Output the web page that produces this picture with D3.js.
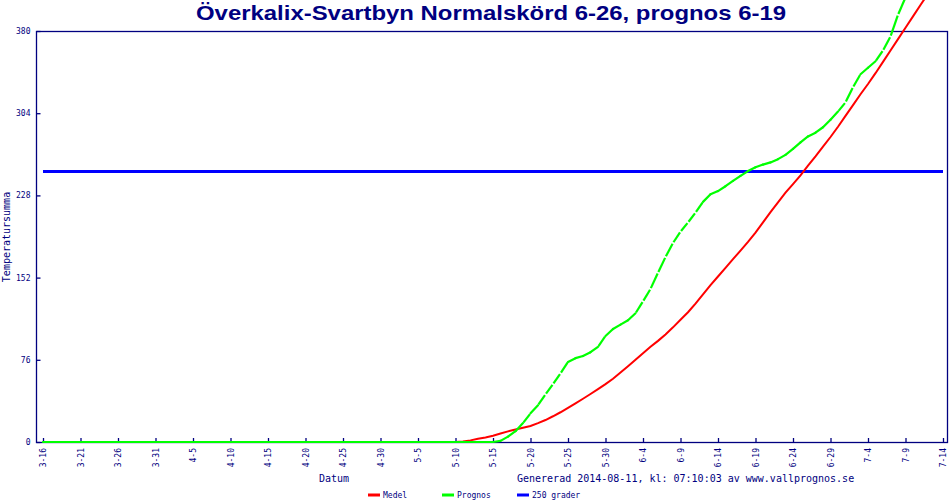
<!DOCTYPE html>
<html>
  <head>
    <meta charset="UTF-8" />
    <script src="https://d3js.org/d3.v7.min.js"></script>
    <style>
      body { margin: 0; background: #fff; }
    </style>
  </head>
  <body>
    <div id="chart"></div>

    <script>
      // values
      var titel = "Överkalix-Svartbyn Normalskörd 6-26, prognos 6-19";
      var yTicks = [0, 76, 152, 228, 304, 380];
      var xTickLabels = [
        "3-16", "3-21", "3-26", "3-31", "4-5", "4-10", "4-15", "4-20", "4-25",
        "4-30", "5-5", "5-10", "5-15", "5-20", "5-25", "5-30", "6-4", "6-9",
        "6-14", "6-19", "6-24", "6-29", "7-4", "7-9", "7-14",
      ];
      var grans = 250;

      // Medel, one value per day from 5-10
      var medelStart = "2014-05-10";
      var medel = [
        0, 0.5, 1.5, 3, 4.2, 5.8, 7.8, 9.8, 11.6, 13.2, 14.8, 17.4, 20.3, 23.8,
        27.5, 31.6, 35.8, 40, 44.4, 48.9, 53.5, 58.5, 64.2, 70, 76, 82, 88, 93.5,
        99.5, 106, 113, 120, 128, 136.5, 145, 153, 161, 169, 177, 185, 193.5,
        203, 212.5, 221.5, 230.5, 238.5, 246.5, 255.5, 264, 273, 282, 291.5,
        301.5, 311.5, 321.5, 331, 341, 351.5, 362, 372.5, 383, 393.5, 404, 414.5,
      ];

      // Prognos, one value per day from 3-16
      var prognosStart = "2014-03-16";
      var prognos = [
        0, 0, 0, 0, 0, 0, 0, 0, 0, 0, 0, 0, 0, 0, 0, 0, 0, 0, 0, 0,
        0, 0, 0, 0, 0, 0, 0, 0, 0, 0, 0, 0, 0, 0, 0, 0, 0, 0, 0, 0,
        0, 0, 0, 0, 0, 0, 0, 0, 0, 0, 0, 0, 0, 0, 0, 0, 0, 0, 0, 0, 0,
        1, 5, 10, 17.5, 26.5, 34, 44, 53.5, 63.5, 74, 77.5, 79.5, 83, 88, 98,
        104.5, 108.5, 112.5, 119, 130, 141.5, 156.5, 171, 184, 194.5, 203, 212,
        222, 229, 232, 236.5, 241.5, 246, 250.5, 254, 256.5, 258.5, 261.5,
        265.5, 271, 277, 282.5, 286, 291, 298, 305.5, 314, 328, 340, 346, 352,
        362, 375, 395, 411,
      ];

      var width = 950,
        height = 500;
      var navy = "#000080";
      var mono = "'DejaVu Sans Mono', 'Liberation Mono', monospace";
      var parse = d3.timeParse("%Y-%m-%d");

      function series(start, values) {
        var d0 = parse(start);
        return values.map(function (v, i) {
          return { date: d3.timeDay.offset(d0, i), value: v };
        });
      }
      var medelData = series(medelStart, medel);
      var prognosData = series(prognosStart, prognos);
      var tickDates = xTickLabels.map(function (s) {
        var p = s.split("-");
        return new Date(2014, +p[0] - 1, +p[1]);
      });

      var svg = d3
        .select("#chart")
        .append("svg")
        .attr("width", width)
        .attr("height", height)
        .style("font-family", mono);

      var x = d3
        .scaleTime()
        .domain([tickDates[0], tickDates[tickDates.length - 1]])
        .range([43, 943]);
      var y = d3.scaleLinear().domain([0, 380]).range([442, 31]);

      // title
      svg
        .append("text")
        .attr("x", 196)
        .attr("y", 20)
        .attr("textLength", 590)
        .attr("lengthAdjust", "spacingAndGlyphs")
        .style("font-family", "'Liberation Sans', Arial, sans-serif")
        .style("font-weight", "bold")
        .style("font-size", "21px")
        .attr("fill", navy)
        .text(titel);

      // frame
      svg
        .append("rect")
        .attr("x", 36.5)
        .attr("y", 31.5)
        .attr("width", 947 - 36)
        .attr("height", 442 - 31)
        .attr("fill", "none")
        .attr("stroke", navy)
        .attr("stroke-width", 1.3);

      // y axis
      var yAxis = d3
        .axisRight(y)
        .tickValues(yTicks)
        .tickSize(4)
        .tickFormat(function (d) {
          return d;
        });
      var gy = svg.append("g").attr("transform", "translate(36.5,0)").call(yAxis);
      gy.select(".domain").remove();
      gy.selectAll(".tick line").attr("stroke", navy).attr("stroke-width", 1.3);
      gy.selectAll(".tick text")
        .attr("x", -6)
        .attr("text-anchor", "end")
        .attr("fill", navy)
        .style("font-family", mono)
        .style("font-size", "8px");

      // x axis
      var xAxis = d3
        .axisTop(x)
        .tickValues(tickDates)
        .tickSize(4)
        .tickFormat(function (d, i) {
          return xTickLabels[i];
        });
      var gx = svg.append("g").attr("transform", "translate(0,442)").call(xAxis);
      gx.select(".domain").remove();
      gx.selectAll(".tick line").attr("stroke", navy).attr("stroke-width", 1.3);
      gx.selectAll(".tick text")
        .attr("transform", "rotate(-90)")
        .attr("x", -6)
        .attr("y", 0)
        .attr("dy", "0.32em")
        .attr("text-anchor", "end")
        .attr("fill", navy)
        .style("font-family", mono)
        .style("font-size", "8px");

      // axis titles
      svg
        .append("text")
        .attr("transform", "translate(10,237) rotate(-90)")
        .attr("text-anchor", "middle")
        .attr("fill", navy)
        .style("font-size", "10px")
        .text("Temperatursumma");
      svg
        .append("text")
        .attr("x", 319)
        .attr("y", 482)
        .attr("fill", navy)
        .style("font-size", "10px")
        .text("Datum");
      svg
        .append("text")
        .attr("x", 517)
        .attr("y", 482)
        .attr("fill", navy)
        .style("font-size", "10px")
        .text("Genererad 2014-08-11, kl: 07:10:03 av www.vallprognos.se");

      // 250 grader
      svg
        .append("line")
        .attr("x1", x(tickDates[0]))
        .attr("x2", x(tickDates[tickDates.length - 1]))
        .attr("y1", y(grans))
        .attr("y2", y(grans))
        .attr("stroke", "#0000ff")
        .attr("stroke-width", 3);

      // Medel
      var line = d3
        .line()
        .x(function (d) {
          return x(d.date);
        })
        .y(function (d) {
          return y(d.value);
        });
      svg
        .append("path")
        .datum(medelData)
        .attr("d", line)
        .attr("fill", "none")
        .attr("stroke", "#ff0000")
        .attr("stroke-width", 2);

      // Prognos, drawn day by day; steep days leave small gaps like the original
      var segs = d3.pairs(prognosData).map(function (p) {
        var x1 = x(p[0].date), y1 = y(p[0].value);
        var x2 = x(p[1].date), y2 = y(p[1].value);
        var dx = x2 - x1, dy = y2 - y1;
        var len = Math.sqrt(dx * dx + dy * dy);
        var trim = Math.abs(dy) > Math.abs(dx) * 1.1 ? 0.9 : 0;
        return {
          x1: x1 + (dx / len) * trim,
          y1: y1 + (dy / len) * trim,
          x2: x2 - (dx / len) * trim,
          y2: y2 - (dy / len) * trim,
          cap: trim ? "butt" : "round",
        };
      });
      svg
        .append("g")
        .selectAll("line")
        .data(segs)
        .enter()
        .append("line")
        .attr("x1", function (d) { return d.x1; })
        .attr("y1", function (d) { return d.y1; })
        .attr("x2", function (d) { return d.x2; })
        .attr("y2", function (d) { return d.y2; })
        .attr("stroke", "#00ff00")
        .attr("stroke-width", 2.2)
        .attr("stroke-linecap", function (d) { return d.cap; });

      // legend
      var legend = [
        { name: "Medel", color: "#ff0000", x: 368 },
        { name: "Prognos", color: "#00ff00", x: 442 },
        { name: "250 grader", color: "#0000ff", x: 517 },
      ];
      var lg = svg
        .append("g")
        .selectAll("g")
        .data(legend)
        .enter()
        .append("g")
        .attr("transform", function (d) {
          return "translate(" + d.x + ",495)";
        });
      lg.append("line")
        .attr("x1", 0)
        .attr("x2", 12)
        .attr("stroke", function (d) { return d.color; })
        .attr("stroke-width", 3);
      lg.append("text")
        .attr("x", 15)
        .attr("y", 3)
        .attr("fill", navy)
        .style("font-size", "8px")
        .text(function (d) { return d.name; });
    </script>
  </body>
</html>
